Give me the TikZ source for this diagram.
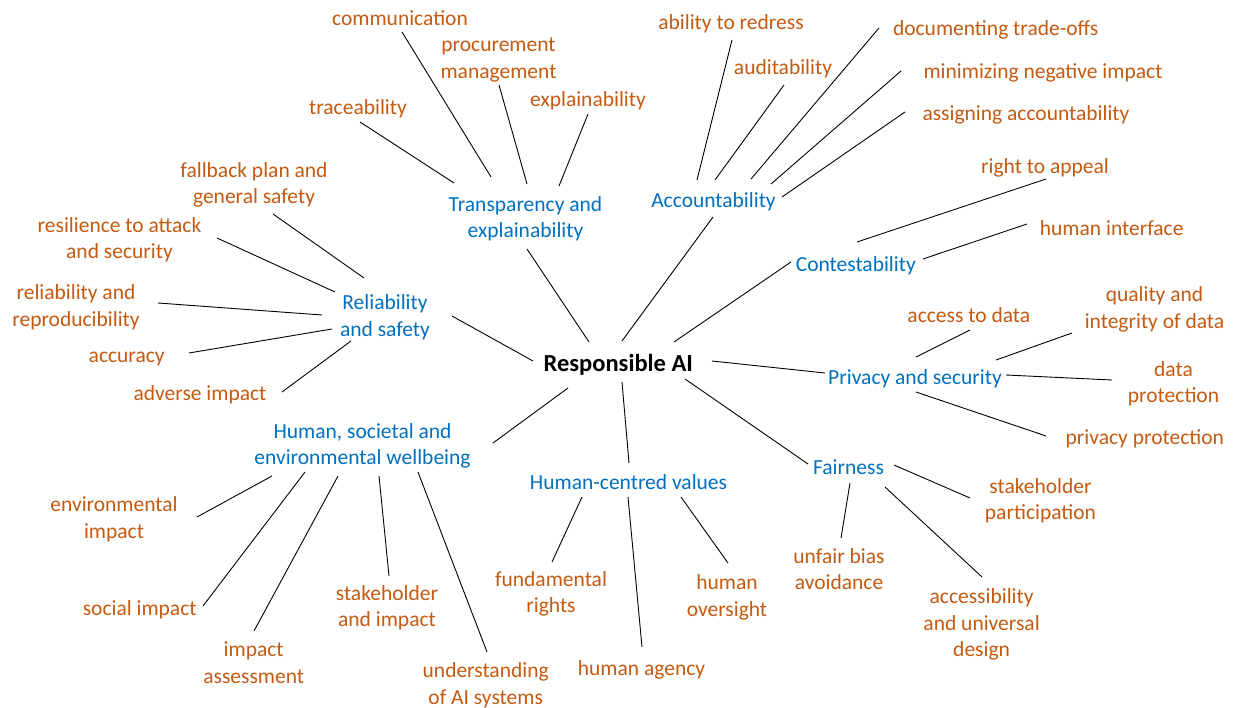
\documentclass[tikz,border=0pt]{standalone}
\usepackage{fontspec}
\setmainfont{Carlito}
\definecolor{leaf}{HTML}{C55A11}
\definecolor{branch}{HTML}{0070C0}
\tikzset{
  txt/.style={inner sep=0pt, align=center, font=\fontsize{21.5}{26.5}\selectfont,
    execute at begin node=\strut, execute at end node=\strut, yshift=-2.5pt},
  leafnode/.style={txt, text=leaf},
  branchnode/.style={txt, text=branch},
  rootnode/.style={inner sep=0pt, font=\fontsize{24.5}{28}\selectfont\bfseries, text=black,
    execute at begin node=\strut, yshift=-3pt},
  link/.style={draw=black, line width=0.9pt}
}
\begin{document}
\begin{tikzpicture}[x=1pt,y=-1pt]
\useasboundingbox (0,0) rectangle (1234,708);
\fill[white] (0,0) rectangle (1234,708);
% root
\node[rootnode] (rai) at (618.3,362.7) {Responsible AI};
% branches
\node[branchnode] (tr) at (525.5,218.7) {Transparency and\\explainability};
\node[branchnode] (ac) at (713.5,200) {Accountability};
\node[branchnode] (co) at (855.8,263.7) {Contestability};
\node[branchnode] (pr) at (915,376.7) {Privacy and security};
\node[branchnode] (fa) at (848.5,467) {Fairness};
\node[branchnode] (hc) at (628.5,481.7) {Human-centred values};
\node[branchnode] (hs) at (362.5,445.7) {Human, societal and\\environmental wellbeing};
\node[branchnode] (re) at (385,317) {Reliability\\and safety};
% leaves: transparency
\node[leafnode] (tr-com) at (400,17.7) {communication};
\node[leafnode] (tr-pro) at (498.5,59.7) {procurement\\management};
\node[leafnode] (tr-exp) at (588,99) {explainability};
\node[leafnode] (tr-tra) at (358,107) {traceability};
% accountability
\node[leafnode] (ac-red) at (731,21.7) {ability to redress};
\node[leafnode] (ac-aud) at (783,66.7) {auditability};
\node[leafnode] (ac-doc) at (995.7,28) {documenting trade-offs};
\node[leafnode] (ac-min) at (1043,71) {minimizing negative impact};
\node[leafnode] (ac-ass) at (1026,112.5) {assigning accountability};
% contestability
\node[leafnode] (co-app) at (1045,165.7) {right to appeal};
\node[leafnode] (co-hi) at (1111.7,227.7) {human interface};
% privacy
\node[leafnode] (pr-acc) at (968.8,314.7) {access to data};
\node[leafnode] (pr-qua) at (1154.5,309) {quality and\\integrity of data};
\node[leafnode] (pr-dat) at (1173.5,383.7) {data\\protection};
\node[leafnode] (pr-pri) at (1144.8,436.7) {privacy protection};
% fairness
\node[leafnode] (fa-sta) at (1040.5,500.7) {stakeholder\\participation};
\node[leafnode] (fa-unf) at (839,570.7) {unfair bias\\avoidance};
\node[leafnode] (fa-acc) at (981.6,624.4) {accessibility\\and universal\\design};
% human-centred values
\node[leafnode] (hc-fun) at (551,593.7) {fundamental\\rights};
\node[leafnode] (hc-age) at (641.5,667.7) {human agency};
\node[leafnode] (hc-ove) at (727,597) {human\\oversight};
% human, societal
\node[leafnode] (hs-env) at (114,519) {environmental\\impact};
\node[leafnode] (hs-soc) at (139.7,608) {social impact};
\node[leafnode] (hs-imp) at (253.7,664) {impact\\assessment};
\node[leafnode] (hs-sta) at (387,607.7) {stakeholder\\and impact};
\node[leafnode] (hs-und) at (485.7,685) {understanding\\of AI systems};
% reliability
\node[leafnode] (re-fal) at (254,184.7) {fallback plan and\\general safety};
\node[leafnode] (re-res) at (119.5,239.7) {resilience to attack\\and security};
\node[leafnode] (re-rel) at (76,307) {reliability and\\reproducibility};
\node[leafnode] (re-acc) at (126.7,354.7) {accuracy};
\node[leafnode] (re-adv) at (200,392.7) {adverse impact};

% connector end points (lines stop short of the texts)
\coordinate (rai-tr-a) at (589,342);   \coordinate (rai-tr-b) at (527,249);
\coordinate (rai-ac-a) at (622,341);   \coordinate (rai-ac-b) at (713,217);
\coordinate (rai-co-a) at (674,342);   \coordinate (rai-co-b) at (791,262);
\coordinate (rai-re-a) at (533,361);   \coordinate (rai-re-b) at (452,316);
\coordinate (rai-pr-a) at (712,361);   \coordinate (rai-pr-b) at (825,373);
\coordinate (rai-fa-a) at (685,379);   \coordinate (rai-fa-b) at (808,464);
\coordinate (rai-hc-a) at (622,382);   \coordinate (rai-hc-b) at (629,463);
\coordinate (rai-hs-a) at (568,388);   \coordinate (rai-hs-b) at (493,443);

\coordinate (tr-tra-a) at (454,183);   \coordinate (tr-tra-b) at (360,122);
\coordinate (tr-com-a) at (491,177);   \coordinate (tr-com-b) at (402,32);
\coordinate (tr-pro-a) at (527,184);   \coordinate (tr-pro-b) at (499,85);
\coordinate (tr-exp-a) at (559,186);   \coordinate (tr-exp-b) at (588,114);

\coordinate (ac-red-a) at (697,180);   \coordinate (ac-red-b) at (732,40);
\coordinate (ac-aud-a) at (715,180);   \coordinate (ac-aud-b) at (784,85);
\coordinate (ac-doc-a) at (751,179);   \coordinate (ac-doc-b) at (879,28);
\coordinate (ac-min-a) at (771,184);   \coordinate (ac-min-b) at (901,71);
\coordinate (ac-ass-a) at (782,197);   \coordinate (ac-ass-b) at (905,112);

\coordinate (co-app-a) at (857,242);   \coordinate (co-app-b) at (1046,179);
\coordinate (co-hi-a) at (923,259);    \coordinate (co-hi-b) at (1027,224);

\coordinate (pr-acc-a) at (916,357);   \coordinate (pr-acc-b) at (970,330);
\coordinate (pr-qua-a) at (996,360);   \coordinate (pr-qua-b) at (1072,333);
\coordinate (pr-dat-a) at (1006,375);  \coordinate (pr-dat-b) at (1112,380);
\coordinate (pr-pri-a) at (916,392);   \coordinate (pr-pri-b) at (1046,436);

\coordinate (fa-sta-a) at (894,465);   \coordinate (fa-sta-b) at (970,498);
\coordinate (fa-unf-a) at (850,483);   \coordinate (fa-unf-b) at (841,538);
\coordinate (fa-acc-a) at (885,487);   \coordinate (fa-acc-b) at (982,577);

\coordinate (hc-fun-a) at (582,497);   \coordinate (hc-fun-b) at (552,562);
\coordinate (hc-age-a) at (628,497);   \coordinate (hc-age-b) at (642,647);
\coordinate (hc-ove-a) at (681,497);   \coordinate (hc-ove-b) at (728,563);

\coordinate (hs-env-a) at (272,476);   \coordinate (hs-env-b) at (197,517);
\coordinate (hs-soc-a) at (305,472);   \coordinate (hs-soc-b) at (203,606);
\coordinate (hs-imp-a) at (338,476);   \coordinate (hs-imp-b) at (254,631);
\coordinate (hs-sta-a) at (379,476);   \coordinate (hs-sta-b) at (389,576);
\coordinate (hs-und-a) at (418,472);   \coordinate (hs-und-b) at (487,652);

\coordinate (re-fal-a) at (364,278);   \coordinate (re-fal-b) at (273,214);
\coordinate (re-res-a) at (335,292);   \coordinate (re-res-b) at (217,238);
\coordinate (re-rel-a) at (322,315);   \coordinate (re-rel-b) at (158,303);
\coordinate (re-acc-a) at (332,329);   \coordinate (re-acc-b) at (189,353);
\coordinate (re-adv-a) at (351,341);   \coordinate (re-adv-b) at (282,392);

\foreach \n in {rai-tr,rai-ac,rai-co,rai-re,rai-pr,rai-fa,rai-hc,rai-hs,
  tr-tra,tr-com,tr-pro,tr-exp,ac-red,ac-aud,ac-doc,ac-min,ac-ass,co-app,co-hi,
  pr-acc,pr-qua,pr-dat,pr-pri,fa-sta,fa-unf,fa-acc,hc-fun,hc-age,hc-ove,
  hs-env,hs-soc,hs-imp,hs-sta,hs-und,re-fal,re-res,re-rel,re-acc,re-adv}
  \draw[link] (\n-a) -- (\n-b);
\end{tikzpicture}
\end{document}
